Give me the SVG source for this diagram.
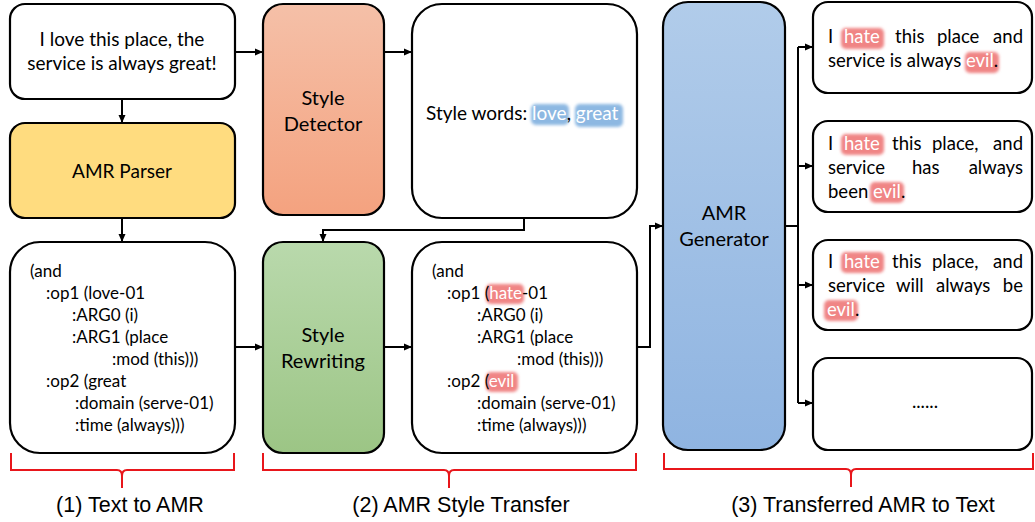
<svg xmlns="http://www.w3.org/2000/svg" width="1035" height="522" viewBox="0 0 1035 522">
<defs>
<linearGradient id="gDet" x1="0" y1="0" x2="0" y2="1"><stop offset="0" stop-color="#F5C0A8"/><stop offset="1" stop-color="#F4A27F"/></linearGradient>
<linearGradient id="gRew" x1="0" y1="0" x2="0" y2="1"><stop offset="0" stop-color="#B9D9AC"/><stop offset="1" stop-color="#9CC585"/></linearGradient>
<linearGradient id="gGen" x1="0" y1="0" x2="0" y2="1"><stop offset="0" stop-color="#B1CCEA"/><stop offset="1" stop-color="#8FB4E1"/></linearGradient>
<filter id="blur" x="-30%" y="-50%" width="160%" height="200%"><feGaussianBlur stdDeviation="1.6"/></filter>
<marker id="arr" markerWidth="8" markerHeight="8" refX="7" refY="4" orient="auto" markerUnits="userSpaceOnUse"><path d="M0,0.5 L8,4 L0,7.5 Z" fill="#000"/></marker>
<style>
.box{stroke:#000;stroke-width:2.2}
.w{fill:#fff}
.t{font-family:Lato,"Open Sans",sans-serif;fill:#000}
.t19{font-size:19px}
.t20{font-size:20px}
.t17{font-size:17px}
.t18{font-size:18.5px}
.wt{fill:#fff}
.hr{fill:#F08585;filter:url(#blur)}
.hb{fill:#8DB8E2;filter:url(#blur)}
.con{fill:none;stroke:#000;stroke-width:2}
.br{fill:none;stroke:#E8161B;stroke-width:2}
.lab{font-family:"Liberation Sans",Arial,sans-serif;font-size:21.5px;fill:#000}
</style>
</defs>

<g id="connectors">
<path class="con" d="M122,99 V122" marker-end="url(#arr)"/>
<path class="con" d="M122,218 V241" marker-end="url(#arr)"/>
<path class="con" d="M235,52 H262" marker-end="url(#arr)"/>
<path class="con" d="M384,52 H411" marker-end="url(#arr)"/>
<path class="con" d="M524,218 V230 H323 V241" marker-end="url(#arr)"/>
<path class="con" d="M235,347 H262" marker-end="url(#arr)"/>
<path class="con" d="M384,347 H411" marker-end="url(#arr)"/>
<path class="con" d="M637,347 H650 V226 H662" marker-end="url(#arr)"/>
<path class="con" d="M785,226 H798"/>
<path class="con" d="M798,47 V403"/>
<path class="con" d="M798,47 H812" marker-end="url(#arr)"/>
<path class="con" d="M798,166 H812" marker-end="url(#arr)"/>
<path class="con" d="M798,285 H812" marker-end="url(#arr)"/>
<path class="con" d="M798,403 H812" marker-end="url(#arr)"/>
</g>

<g id="input">
<rect class="box w" x="10" y="4" width="225" height="95" rx="15"/>
<text class="t t19" x="122" y="46" text-anchor="middle">I love this place, the</text>
<text class="t t19" x="122" y="70" text-anchor="middle">service is always great!</text>
</g>

<g id="parser">
<rect class="box" fill="#FFDC7F" x="10" y="123" width="225" height="95" rx="15"/>
<text class="t t19" x="122" y="178" text-anchor="middle">AMR Parser</text>
</g>

<g id="amr1">
<rect class="box w" x="10" y="242" width="225" height="211" rx="30"/>
<g class="t t17">
<text x="30" y="277">(and</text>
<text x="46" y="299">:op1 (love-01</text>
<text x="72" y="321">:ARG0 (i)</text>
<text x="72" y="343">:ARG1 (place</text>
<text x="112" y="365">:mod (this)))</text>
<text x="46" y="387">:op2 (great</text>
<text x="75" y="409">:domain (serve-01)</text>
<text x="75" y="431">:time (always)))</text>
</g>
</g>

<g id="detector">
<rect class="box" fill="url(#gDet)" x="263" y="4" width="121" height="211" rx="20"/>
<text class="t t20" x="323" y="105" text-anchor="middle">Style</text>
<text class="t t20" x="323" y="131" text-anchor="middle">Detector</text>
</g>

<g id="stylewords">
<rect class="box w" x="412" y="4" width="225" height="214" rx="30"/>
<rect class="hb" x="531" y="104" width="38" height="21" rx="5"/>
<rect class="hb" x="575" y="104" width="48" height="23" rx="5"/>
<text class="t t19" x="426" y="120">Style words: <tspan class="wt">love</tspan>, <tspan class="wt">great</tspan></text>
</g>

<g id="rewriting">
<rect class="box" fill="url(#gRew)" x="263" y="242" width="121" height="211" rx="20"/>
<text class="t t20" x="323" y="342" text-anchor="middle">Style</text>
<text class="t t20" x="323" y="368" text-anchor="middle">Rewriting</text>
</g>

<g id="amr2">
<rect class="box w" x="412" y="242" width="225" height="211" rx="30"/>
<rect class="hr" x="486" y="284" width="38" height="20" rx="5"/>
<rect class="hr" x="486" y="372" width="32" height="20" rx="5"/>
<g class="t t17">
<text x="432" y="277">(and</text>
<text x="447" y="299">:op1 (<tspan class="wt">hate</tspan>-01</text>
<text x="477" y="321">:ARG0 (i)</text>
<text x="477" y="343">:ARG1 (place</text>
<text x="517" y="365">:mod (this)))</text>
<text x="447" y="387">:op2 (<tspan class="wt">evil</tspan></text>
<text x="477" y="409">:domain (serve-01)</text>
<text x="477" y="431">:time (always)))</text>
</g>
</g>

<g id="generator">
<rect class="box" fill="url(#gGen)" x="663" y="2" width="122" height="448" rx="25"/>
<text class="t t20" x="724" y="220" text-anchor="middle">AMR</text>
<text class="t t20" x="724" y="246" text-anchor="middle">Generator</text>
</g>

<g id="out1">
<rect class="box w" x="813" y="2" width="219" height="91" rx="15"/>
<rect class="hr" x="841" y="28" width="43" height="21" rx="5"/>
<rect class="hr" x="965" y="52" width="34" height="21" rx="5"/>
<g class="t t18">
<text x="828" y="43">I</text>
<text x="844" y="43" class="wt">hate</text>
<text x="895" y="43">this</text>
<text x="937" y="43">place</text>
<text x="1023" y="43" text-anchor="end">and</text>
<text x="828" y="67">service is always <tspan class="wt">evil</tspan>.</text>
</g>
</g>

<g id="out2">
<rect class="box w" x="813" y="121" width="219" height="91" rx="15"/>
<rect class="hr" x="841" y="134" width="43" height="21" rx="5"/>
<rect class="hr" x="870" y="182" width="34" height="21" rx="5"/>
<g class="t t18">
<text x="828" y="150">I</text>
<text x="844" y="150" class="wt">hate</text>
<text x="892" y="150">this</text>
<text x="932" y="150">place,</text>
<text x="1023" y="150" text-anchor="end">and</text>
<text x="828" y="174">service</text>
<text x="912" y="174">has</text>
<text x="1023" y="174" text-anchor="end">always</text>
<text x="828" y="198">been <tspan class="wt">evil</tspan>.</text>
</g>
</g>

<g id="out3">
<rect class="box w" x="813" y="240" width="219" height="90" rx="15"/>
<rect class="hr" x="841" y="252" width="43" height="21" rx="5"/>
<rect class="hr" x="824" y="300" width="34" height="21" rx="5"/>
<g class="t t18">
<text x="828" y="268">I</text>
<text x="844" y="268" class="wt">hate</text>
<text x="892" y="268">this</text>
<text x="932" y="268">place,</text>
<text x="1023" y="268" text-anchor="end">and</text>
<text x="828" y="292">service</text>
<text x="896" y="292">will</text>
<text x="936" y="292">always</text>
<text x="1023" y="292" text-anchor="end">be</text>
<text x="827" y="316"><tspan class="wt">evil</tspan>.</text>
</g>
</g>

<g id="out4">
<rect class="box w" x="813" y="358" width="219" height="92" rx="15"/>
<text class="t t18" x="925" y="408" text-anchor="middle">......</text>
</g>

<g id="brackets">
<path class="br" d="M11,453 V470 H117 Q122,470 122,476 V488 M122,476 Q122,470 127,470 H234 V453"/>
<path class="br" d="M263,453 V470 H444 Q449,470 449,476 V488 M449,476 Q449,470 454,470 H636 V453"/>
<path class="br" d="M664,453 V469 H846 Q851,469 851,475 V487 M851,475 Q851,469 856,469 H1033 V453"/>
<text class="lab" x="130" y="512" text-anchor="middle">(1) Text to AMR</text>
<text class="lab" x="461" y="512" text-anchor="middle">(2) AMR Style Transfer</text>
<text class="lab" x="863" y="512" text-anchor="middle">(3) Transferred AMR to Text</text>
</g>
</svg>
